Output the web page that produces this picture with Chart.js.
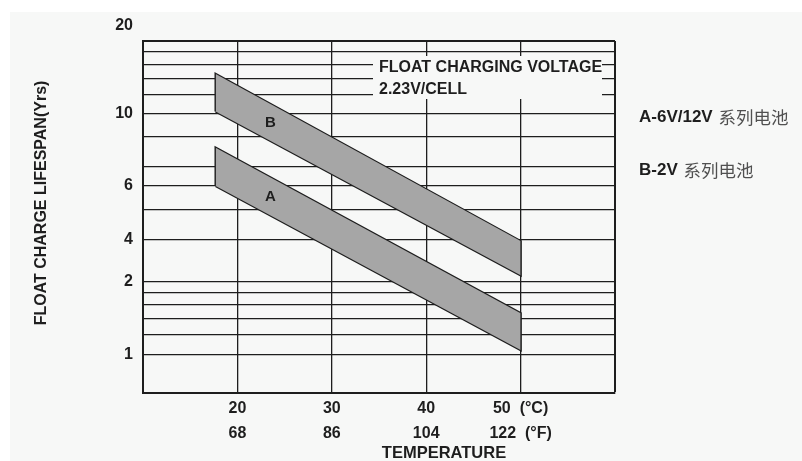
<!DOCTYPE html>
<html>
<head>
<meta charset="utf-8">
<script src="https://cdn.jsdelivr.net/npm/chart.js@4.4.1/dist/chart.umd.min.js"></script>
<style>
  html, body { margin: 0; padding: 0; background: #fff; }
  #wrap { width: 802px; height: 461px; }
</style>
</head>
<body>
<div id="wrap"><canvas id="myChart" width="802" height="461"></canvas></div>
<script>
// temperature (deg C) at the two ends of each band
var tempC = [17.7, 50];
// lifespan in years, upper and lower edge of each band
var bUpper = [14.6, 2.95];
var bLower = [10.2, 2.13];
var aUpper = [7.2, 1.48];
var aLower = [5.0, 1.04];

// axis ticks
var xTicksC = [10, 20, 30, 40, 50, 60];
var xLabelsC = ['', '20', '30', '40', '50  (°C)', ''];
var xLabelsF = ['', '68', '86', '104', '122  (°F)', ''];
var yGrid = [1, 1.2, 1.4, 1.6, 1.8, 2, 3, 4, 5, 6, 8, 10, 12, 14, 16, 18, 20];
var yLabelAt = [20, 10, 5, 3, 2, 1];
var yLabelText = ['20', '10', '6', '4', '2', '1'];

// text
var bandNames = ['B', 'A'];
var bandLabelTemp = 23.5;
var legendCodes = ['A-6V/12V', 'B-2V'];
var legendCn = '系列电池';
var noteLines = ['FLOAT CHARGING VOLTAGE', '2.23V/CELL'];

var ink = '#1e1e1e';
var bandFill = '#a6a6a6';
var paper = '#f7f8f7';
var latin = '"Liberation Sans", Arial, sans-serif';
var cjk = '"Noto Sans CJK SC", sans-serif';

function pts(ys) {
    return tempC.map(function (x, i) { return { x: x, y: ys[i] }; });
}
function outline(up, lo) {
    return [
        { x: tempC[0], y: lo[0] }, { x: tempC[0], y: up[0] },
        { x: tempC[1], y: up[1] }, { x: tempC[1], y: lo[1] },
        { x: tempC[0], y: lo[0] }
    ];
}
function edge(data) {
    return { data: data, showLine: true, pointRadius: 0, borderWidth: 0, fill: false };
}

var datasets = [
    edge(pts(bLower)),
    Object.assign(edge(pts(bUpper)), { fill: '-1', backgroundColor: bandFill }),
    Object.assign(edge(outline(bUpper, bLower)), { borderColor: ink, borderWidth: 2.4 }),
    edge(pts(aLower)),
    Object.assign(edge(pts(aUpper)), { fill: '-1', backgroundColor: bandFill }),
    Object.assign(edge(outline(aUpper, aLower)), { borderColor: ink, borderWidth: 2.4 })
];

var decor = {
    id: 'decor',
    beforeDraw: function (chart) {
        var c = chart.ctx;
        c.save();
        c.fillStyle = paper;
        c.fillRect(10, 12, chart.width - 10, chart.height - 12);
        c.restore();
    },
    beforeDatasetsDraw: function (chart) {
        // white-out box behind the note
        var c = chart.ctx, a = chart.chartArea;
        c.save();
        c.fillStyle = paper;
        c.fillRect(a.left + 230, a.top + 15, 229, 43);
        c.fillStyle = ink;
        c.font = 'bold 16px ' + latin;
        c.textBaseline = 'middle';
        c.fillText(noteLines[0], a.left + 236, a.top + 27);
        c.fillText(noteLines[1], a.left + 236, a.top + 49);
        c.restore();
    },
    afterDraw: function (chart) {
        var c = chart.ctx, a = chart.chartArea;
        var xs = chart.scales.x, ys = chart.scales.y;
        c.save();
        c.fillStyle = ink;
        c.textBaseline = 'middle';

        // band labels, centred between the two edges
        var t = (bandLabelTemp - tempC[0]) / (tempC[1] - tempC[0]);
        [[bUpper, bLower], [aUpper, aLower]].forEach(function (b, i) {
            var up = ys.getPixelForValue(b[0][0]) + t * (ys.getPixelForValue(b[0][1]) - ys.getPixelForValue(b[0][0]));
            var lo = ys.getPixelForValue(b[1][0]) + t * (ys.getPixelForValue(b[1][1]) - ys.getPixelForValue(b[1][0]));
            c.font = 'bold 15px ' + latin;
            c.textAlign = 'center';
            c.fillText(bandNames[i], xs.getPixelForValue(bandLabelTemp), (up + lo) / 2);
        });

        // axis titles
        c.textAlign = 'center';
        c.font = 'bold 16.5px ' + latin;
        c.fillText('TEMPERATURE', a.left + 301, 453);
        c.font = 'bold 16px ' + latin;
        c.save();
        c.translate(42, 203);
        c.rotate(-Math.PI / 2);
        c.fillText('FLOAT CHARGE LIFESPAN(Yrs)', 0, 0);
        c.restore();

        // legend on the right
        c.textAlign = 'left';
        legendCodes.forEach(function (code, i) {
            var y = 117 + i * 53;
            c.font = 'bold 17px ' + latin;
            c.fillStyle = ink;
            c.fillText(code, 639, y);
            var w = c.measureText(code + ' ').width;
            c.font = '17.5px ' + cjk;
            c.fillStyle = '#505050';
            c.fillText(legendCn, 640 + w, y);
        });
        c.restore();
    }
};

var ctx = document.getElementById('myChart').getContext('2d');
var chart = new Chart(ctx, {
    type: 'scatter',
    data: { datasets: datasets },
    options: {
        responsive: false,
        animation: false,
        layout: { padding: { left: 0, top: 41, right: 187, bottom: 0 } },
        plugins: { legend: { display: false }, tooltip: { enabled: false } },
        scales: {
            x: {
                type: 'linear', min: 10, max: 60,
                afterBuildTicks: function (s) { s.ticks = xTicksC.map(function (v) { return { value: v }; }); },
                afterFit: function (s) { s.height = 68; },
                grid: {
                    color: ink, drawTicks: false,
                    lineWidth: function (c) { return c.tick && c.tick.value === 60 ? 2 : 1.3; }
                },
                border: { color: ink, width: 2 },
                ticks: {
                    autoSkip: false, maxRotation: 0, padding: 3, color: ink,
                    font: { family: latin, size: 16, weight: 'bold', lineHeight: '25px' },
                    callback: function (v) {
                        var i = xTicksC.indexOf(v);
                        return xLabelsC[i] ? [xLabelsC[i], xLabelsF[i]] : '';
                    }
                }
            },
            y: {
                type: 'logarithmic', min: 0.69, max: 20,
                afterBuildTicks: function (s) { s.ticks = yGrid.map(function (v) { return { value: v }; }); },
                afterFit: function (s) { s.width = 143; },
                grid: {
                    color: ink, drawTicks: false,
                    lineWidth: function (c) { return c.tick && c.tick.value === 20 ? 2 : 1.3; }
                },
                border: { color: ink, width: 2 },
                ticks: {
                    autoSkip: false, padding: 10, color: ink,
                    font: { family: latin, size: 16, weight: 'bold', lineHeight: '15px' },
                    callback: function (v) {
                        var i = yLabelAt.indexOf(v);
                        if (i < 0) return '';
                        return v === 20 ? [yLabelText[i], '', ''] : yLabelText[i];
                    }
                }
            }
        }
    },
    plugins: [decor]
});
</script>
</body>
</html>
